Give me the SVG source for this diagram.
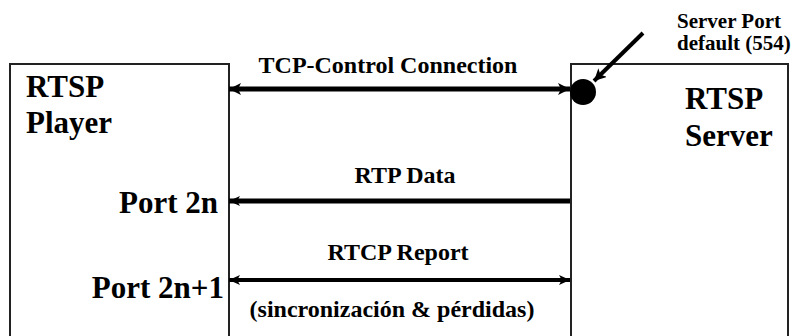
<svg xmlns="http://www.w3.org/2000/svg" width="796" height="336" viewBox="0 0 796 336">
  <style>
    .box { fill: #ffffff; stroke: #222222; stroke-width: 2; }
    .lbl { font-family: "Liberation Serif", "Times New Roman", serif; font-weight: bold; fill: #000000; }
    .big { font-size: 31px; }
    .mid { font-size: 24px; }
    .small { font-size: 21px; }
    .link { stroke: #000000; fill: none; }
  </style>
  <defs>
    <marker id="headEnd" viewBox="0 0 12 12" refX="12" refY="6" markerWidth="12" markerHeight="12" markerUnits="userSpaceOnUse" orient="auto">
      <path d="M0,0 L12,6 L0,12 L3,6 z" fill="#000000"/>
    </marker>
    <marker id="headStart" viewBox="0 0 12 12" refX="0" refY="6" markerWidth="12" markerHeight="12" markerUnits="userSpaceOnUse" orient="auto">
      <path d="M12,0 L0,6 L12,12 L9,6 z" fill="#000000"/>
    </marker>
    <marker id="headEndSm" viewBox="0 0 12 12" refX="12" refY="6" markerWidth="11" markerHeight="10" markerUnits="userSpaceOnUse" orient="auto" preserveAspectRatio="none">
      <path d="M0,0 L12,6 L0,12 L3,6 z" fill="#000000"/>
    </marker>
    <marker id="headStartSm" viewBox="0 0 12 12" refX="0" refY="6" markerWidth="11" markerHeight="10" markerUnits="userSpaceOnUse" orient="auto" preserveAspectRatio="none">
      <path d="M12,0 L0,6 L12,12 L9,6 z" fill="#000000"/>
    </marker>
  </defs>

  <!-- client box -->
  <g id="player">
    <rect class="box" x="10" y="64" width="219" height="290"/>
    <text class="lbl big" x="26" y="97">RTSP</text>
    <text class="lbl big" x="26" y="133">Player</text>
    <text class="lbl big" x="218" y="213" text-anchor="end">Port 2n</text>
    <text class="lbl big" x="224" y="298" text-anchor="end">Port 2n+1</text>
  </g>

  <!-- server box -->
  <g id="server">
    <rect class="box" x="571" y="64" width="217" height="290"/>
    <text class="lbl big" x="685" y="109">RTSP</text>
    <text class="lbl big" x="685" y="146">Server</text>
  </g>

  <!-- listening port of the server -->
  <g id="server-port">
    <circle cx="583" cy="92" r="13" fill="#000000"/>
    <text class="lbl small" x="677" y="28">Server Port</text>
    <text class="lbl small" x="677" y="50">default (554)</text>
  </g>

  <!-- connections between player and server -->
  <g id="connectors">
    <line class="link" x1="643" y1="33" x2="594" y2="81" stroke-width="4" marker-end="url(#headEnd)"/>
    <line class="link" x1="229" y1="89" x2="570" y2="89" stroke-width="5" marker-start="url(#headStart)" marker-end="url(#headEnd)"/>
    <line class="link" x1="229" y1="201" x2="570" y2="201" stroke-width="5" marker-start="url(#headStartSm)"/>
    <line class="link" x1="229" y1="280" x2="570" y2="280" stroke-width="4" marker-start="url(#headStartSm)" marker-end="url(#headEndSm)"/>
    <text class="lbl mid" x="388" y="73" text-anchor="middle">TCP-Control Connection</text>
    <text class="lbl mid" x="405" y="183" text-anchor="middle">RTP Data</text>
    <text class="lbl mid" x="398" y="260" text-anchor="middle">RTCP Report</text>
    <text class="lbl mid" x="392" y="317" text-anchor="middle">(sincronización &amp; pérdidas)</text>
  </g>
</svg>
